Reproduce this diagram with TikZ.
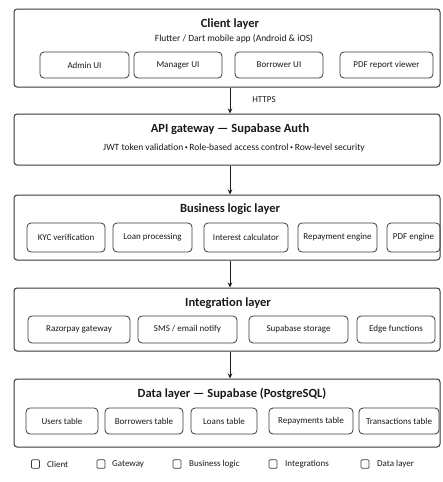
\documentclass[tikz,border=0pt]{standalone}
\usepackage{fontspec}
\setmainfont{Carlito}
\usetikzlibrary{arrows.meta}
\definecolor{ink}{HTML}{1A1A1A}
\definecolor{edge}{HTML}{3A3A3A}
\newcommand{\smbul}{\,\raisebox{1.3pt}{\fontsize{6}{6}\selectfont •}\,}
\tikzset{
  layer/.style={draw=edge, line width=1pt, rounded corners=3pt, fill=white},
  comp/.style={draw=edge, line width=0.8pt, rounded corners=4pt, align=center, font=\fontsize{9}{10}\selectfont, text=ink, inner sep=0pt},
  ttl/.style={font=\fontsize{12.5}{14}\selectfont\bfseries, text=ink, inner sep=0pt},
  sub/.style={font=\fontsize{9.5}{11}\selectfont, text=ink, inner sep=0pt},
  arr/.style={draw=ink, line width=0.8pt, -{Stealth[length=5pt,width=4.5pt]}},
  lsq/.style={draw=edge, line width=0.7pt, rounded corners=1pt, minimum width=8pt, minimum height=8.5pt, inner sep=0pt},
  ltx/.style={font=\fontsize{9}{10}\selectfont, text=ink, anchor=west, inner sep=0pt}
}
\begin{document}
\begin{tikzpicture}[x=1pt,y=-1pt]
\useasboundingbox (0,0) rectangle (443,482);
\fill[white] (0,0) rectangle (443,482);
% layers
\node[layer, minimum width=426pt, minimum height=78pt] (client) at (227,48) {};
\node[layer, minimum width=426pt, minimum height=51pt] (api) at (227,139.5) {};
\node[layer, minimum width=426pt, minimum height=65pt] (biz) at (227,227.5) {};
\node[layer, minimum width=426pt, minimum height=63pt] (integ) at (227,319.5) {};
\node[layer, minimum width=426pt, minimum height=68pt] (data) at (227,413) {};
% titles
\node[ttl] (tclient) at (230,24) {Client layer};
\node[sub] (sclient) at (234,39) {Flutter / Dart mobile app (Android \& iOS)};
\node[ttl] (tapi) at (230,129) {API gateway — Supabase Auth};
\node[sub] (sapi) at (234,148) {JWT token validation\smbul Role-based access control\smbul Row-level security};
\node[ttl] (tbiz) at (230,209) {Business logic layer};
\node[ttl] (tinteg) at (228,303) {Integration layer};
\node[ttl] (tdata) at (232,394) {Data layer — Supabase (PostgreSQL)};
% client components
\node[comp, minimum width=89pt, minimum height=26pt] (admin) at (84.5,65) {Admin UI};
\node[comp, minimum width=88pt, minimum height=26pt] (manager) at (178,65) {Manager UI};
\node[comp, minimum width=88pt, minimum height=26pt] (borrower) at (279,65) {Borrower UI};
\node[comp, minimum width=93pt, minimum height=26pt] (pdfview) at (386.5,65) {PDF report viewer};
% business components
\node[comp, minimum width=78pt, minimum height=29pt] (kyc) at (66,237.5) {KYC verification};
\node[comp, minimum width=79pt, minimum height=29pt] (loanp) at (152.5,237.5) {Loan processing};
\node[comp, minimum width=84pt, minimum height=29pt] (interest) at (246,237.5) {Interest calculator};
\node[comp, minimum width=79pt, minimum height=29pt] (repay) at (337.5,237.5) {Repayment engine};
\node[comp, minimum width=53pt, minimum height=29pt] (pdfeng) at (413.5,237.5) {PDF engine};
% integration components
\node[comp, minimum width=102pt, minimum height=27pt] (razor) at (79,329.5) {Razorpay gateway};
\node[comp, minimum width=99pt, minimum height=27pt] (sms) at (187.5,329.5) {SMS / email notify};
\node[comp, minimum width=99pt, minimum height=27pt] (storage) at (298.5,329.5) {Supabase storage};
\node[comp, minimum width=78pt, minimum height=27pt] (edgef) at (396,329.5) {Edge functions};
% data components
\node[comp, minimum width=72pt, minimum height=26pt] (users) at (62,421) {Users table};
\node[comp, minimum width=78pt, minimum height=26pt] (borrowers) at (144,421) {Borrowers table};
\node[comp, minimum width=66pt, minimum height=26pt] (loans) at (224,421) {Loans table};
\node[comp, minimum width=84pt, minimum height=26pt] (repays) at (311,421) {Repayments table};
\node[comp, minimum width=80pt, minimum height=26pt] (trans) at (399,421) {Transactions table};
% arrows
\coordinate (ax) at (230,0);
\draw[arr] (client.south -| ax) -- (api.north -| ax);
\node[sub, font=\fontsize{9}{10}\selectfont] (https) at (264,100) {HTTPS};
\draw[arr] (api.south -| ax) -- (biz.north -| ax);
\draw[arr] (biz.south -| ax) -- (integ.north -| ax);
\draw[arr] (integ.south -| ax) -- (data.north -| ax);
% legend
\node[lsq] (l1) at (35.5,464) {};
\node[ltx] (l1t) at (47,464) {Client};
\node[lsq] (l2) at (101,464) {};
\node[ltx] (l2t) at (112,464) {Gateway};
\node[lsq] (l3) at (177,464) {};
\node[ltx] (l3t) at (189,464) {Business logic};
\node[lsq] (l4) at (273,464) {};
\node[ltx] (l4t) at (285,464) {Integrations};
\node[lsq] (l5) at (365,464) {};
\node[ltx] (l5t) at (377,464) {Data layer};
\end{tikzpicture}
\end{document}
